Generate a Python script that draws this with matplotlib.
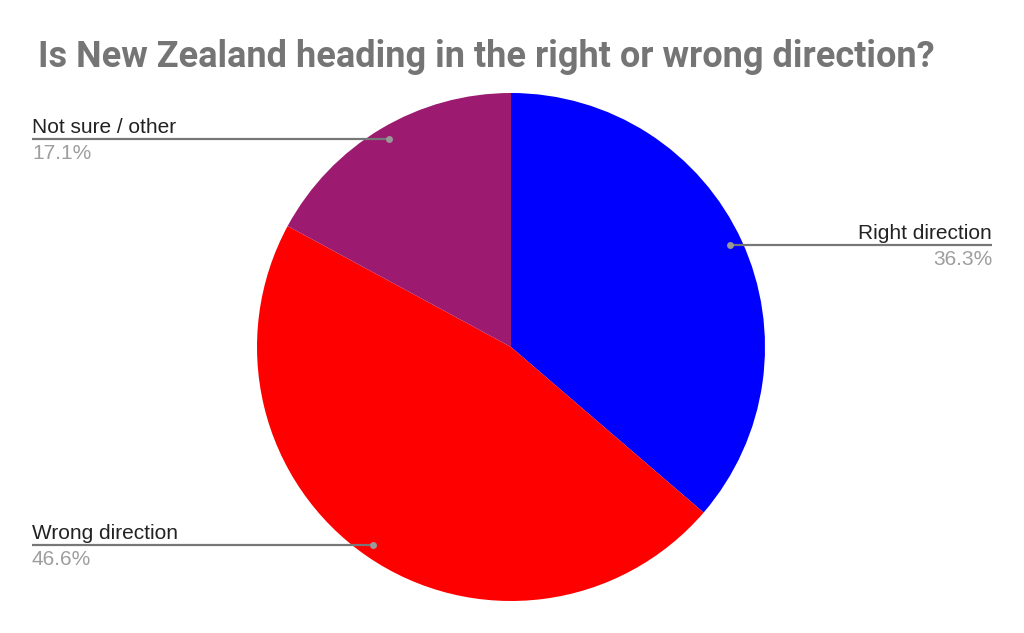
import numpy as np
from matplotlib import pyplot as plt

# data
labels = ["Right direction", "Wrong direction", "Not sure / other"]
shares = [36.3, 46.6, 17.1]
colors = ["#0000ff", "#ff0000", "#9c1a70"]

# label layout: line height (px from top), side
label_y = [245, 545, 139]
label_side = ["right", "left", "left"]

W, H = 1024, 633
cx, cy, R = 511, H - 347, 254

fig = plt.figure(figsize=(W / 100, H / 100), dpi=100)
ax = fig.add_axes([0, 0, 1, 1])

ax.pie(shares, colors=colors, startangle=90, counterclock=False,
       center=(cx, cy), radius=R, frame=True,
       wedgeprops=dict(linewidth=0))
ax.set_xlim(0, W)
ax.set_ylim(0, H)
ax.set_aspect("equal")
ax.axis("off")

ax.text(38, H - 67, "Is New Zealand heading in the right or wrong direction?",
        fontsize=26, fontweight="bold", color="#757575", family="Roboto",
        ha="left", va="baseline")

for lab, val, ly, side in zip(labels, shares, label_y, label_side):
    y = H - ly
    dy = y - cy
    dx = np.sqrt((0.95 * R) ** 2 - dy ** 2)
    if side == "right":
        dot_x = cx + dx
        x_end = 992
        ha = "right"
    else:
        dot_x = cx - dx
        x_end = 32
        ha = "left"
    ax.plot([dot_x, x_end], [y, y], color="#777777", lw=1.6, solid_capstyle="butt")
    ax.plot(dot_x, y, "o", color="#999999", ms=5, mec="none")
    ax.text(x_end, y + 6, lab, fontsize=15, color="#222222", family="Liberation Sans",
            ha=ha, va="baseline")
    ax.text(x_end, y - 5, "%.1f%%" % val, fontsize=15, color="#9e9e9e",
            family="Liberation Sans", ha=ha, va="top")

fig.savefig("out.png", dpi=100)
